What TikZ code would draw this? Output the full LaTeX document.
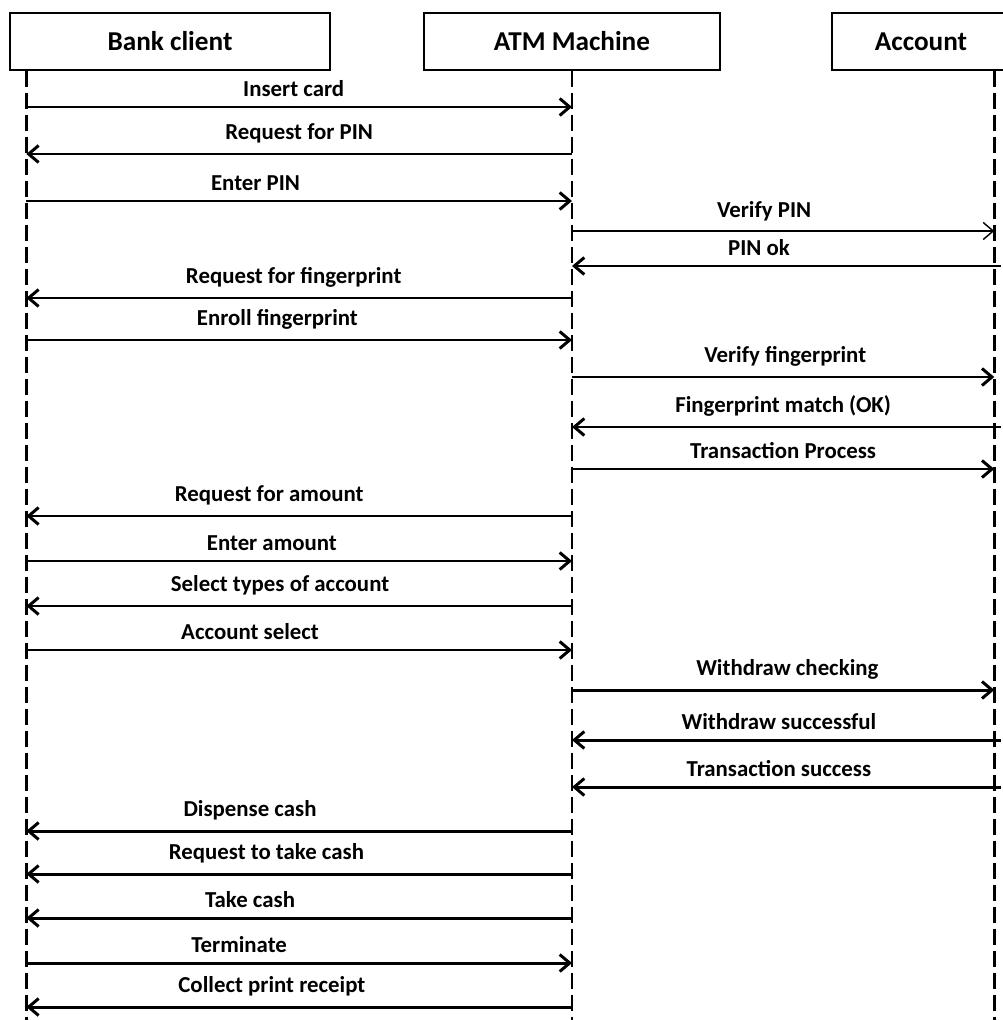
\documentclass[tikz,border=0pt]{standalone}
\usepackage{fontspec}
\setmainfont{Carlito}
\usetikzlibrary{arrows.meta}

\begin{document}
\begin{tikzpicture}[x=0.02cm, y=-0.02cm,
    actor/.style={draw, line width=0.8pt, minimum height=1.14cm, font=\bfseries\fontsize{15.5}{18}\selectfont},
    life/.style={line width=1.6pt, dash pattern=on 0.32cm off 0.12cm},
    msg/.style={line width=1.7pt, -{Straight Barb[length=0.2cm, width=0.34cm]}},
    lbl/.style={above=0.18cm, inner sep=0pt, font=\bfseries\fontsize{13}{15}\selectfont}]

    \useasboundingbox (0,0) rectangle (1002,1020);

    % objects
    \node[actor, minimum width=6.4cm] (client) at (170,41.5) {Bank client};
    \node[actor, minimum width=5.92cm] (atm) at (572,41.5) {ATM Machine};
    \node[actor, minimum width=3.56cm] (acc) at (921,41.5) {Account};

    % lifelines
    \coordinate (cl) at ([xshift=0.34cm]client.south west);
    \coordinate (al) at (atm.south);
    \coordinate (acl) at ([xshift=3.26cm]acc.south west);
    \draw[life] (cl) -- (cl |- 0,1020);
    \draw[life] (al) -- (al |- 0,1020);
    \draw[life] (acl) -- (acl |- 0,1020);

    % messages
    \draw[msg] (cl |- 0,107) -- node[lbl, pos=.49] {Insert card} (al |- 0,107);
    \draw[msg] (al |- 0,154) -- node[lbl, pos=.50] {Request for PIN} (cl |- 0,154);
    \draw[msg] (cl |- 0,201) -- node[lbl, pos=.42] {Enter PIN} (al |- 0,201);
    \draw[msg, line width=0.8pt] (al |- 0,231) -- node[lbl, pos=.455] {Verify PIN} (acl |- 0,231);
    \draw[msg, shorten <=-0.14cm] (acl |- 0,266) -- node[lbl, pos=.557] {PIN ok} (al |- 0,266);
    \draw[msg] (al |- 0,298) -- node[lbl, pos=.51] {Request for fingerprint} (cl |- 0,298);
    \draw[msg] (cl |- 0,340) -- node[lbl, pos=.46] {Enroll fingerprint} (al |- 0,340);
    \draw[msg] (al |- 0,377) -- node[lbl, pos=.505] {Verify fingerprint} (acl |- 0,377);
    \draw[msg, shorten <=-0.14cm] (acl |- 0,427) -- node[lbl, pos=.50] {Fingerprint match (OK)} (al |- 0,427);
    \draw[msg] (al |- 0,469) -- node[lbl, pos=.50] {Transaction Process} (acl |- 0,469);
    \draw[msg] (al |- 0,516) -- node[lbl, pos=.555] {Request for amount} (cl |- 0,516);
    \draw[msg] (cl |- 0,561) -- node[lbl, pos=.45] {Enter amount} (al |- 0,561);
    \draw[msg] (al |- 0,606) -- node[lbl, pos=.535] {Select types of account} (cl |- 0,606);
    \draw[msg] (cl |- 0,650) -- node[lbl, pos=.41] {Account select} (al |- 0,650);
    \draw[msg] (al |- 0,690) -- node[lbl, pos=.51] {Withdraw checking} (acl |- 0,690);
    \draw[msg, shorten <=-0.14cm] (acl |- 0,740) -- node[lbl, pos=.51] {Withdraw successful} (al |- 0,740);
    \draw[msg, shorten <=-0.14cm] (acl |- 0,787) -- node[lbl, pos=.51] {Transaction success} (al |- 0,787);
    \draw[msg] (al |- 0,831) -- node[lbl, pos=.59] {Dispense cash} (cl |- 0,831);
    \draw[msg] (al |- 0,874) -- node[lbl, pos=.56] {Request to take cash} (cl |- 0,874);
    \draw[msg] (al |- 0,918) -- node[lbl, pos=.59] {Take cash} (cl |- 0,918);
    \draw[msg] (cl |- 0,963) -- node[lbl, pos=.39] {Terminate} (al |- 0,963);
    \draw[msg] (al |- 0,1007) -- node[lbl, pos=.55] {Collect print receipt} (cl |- 0,1007);
\end{tikzpicture}
\end{document}
